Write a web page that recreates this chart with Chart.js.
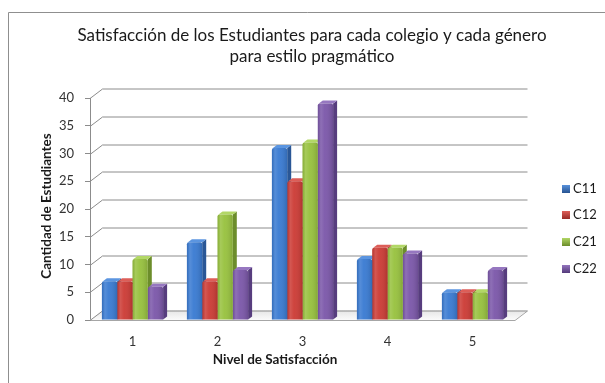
<!DOCTYPE html>
<html>
<head>
<meta charset="utf-8">
<script src="https://cdn.jsdelivr.net/npm/chart.js@4.4.1/dist/chart.umd.min.js"></script>
<style>
  html, body { margin: 0; padding: 0; background: #ffffff; }
  canvas { display: block; }
</style>
</head>
<body>
<canvas id="c" width="605" height="383"></canvas>
<script>
// ---------- data ----------
const categories = ['1', '2', '3', '4', '5'];
const seriesNames = ['C11', 'C12', 'C21', 'C22'];
const c11 = [7, 14, 31, 11, 5];
const c12 = [7, 7, 25, 13, 5];
const c21 = [11, 19, 32, 13, 5];
const c22 = [6, 9, 39, 12, 9];
const yMin = 0, yMax = 40, yStep = 5;
const titleLines = ['Satisfacción de los Estudiantes para cada colegio y cada género', 'para estilo pragmático'];
const xTitle = 'Nivel de Satisfacción';
const yTitle = 'Cantidad de Estudiantes';

// ---------- styles ----------
const FONT = "Lato, 'Liberation Sans', sans-serif";
const frontColors = ['#3a7bd2', '#cc3c36', '#98c23f', '#7c58aa'];
const sideColors  = ['#2a5796', '#952a26', '#6c8d2b', '#573d7e'];
const capColors   = ['#5b95e0', '#dc5e58', '#b2d766', '#9677c0'];
const DX = 4, DY = 3;          // bar depth offsets
const WDX = 12.5, WDY = 9.5;   // wall depth offsets

const seriesValues = [c11, c12, c21, c22];
const datasets = seriesValues.map((vals, i) => ({
  label: seriesNames[i],
  data: vals,
  backgroundColor: frontColors[i],
  borderWidth: 0,
  borderRadius: { topLeft: 2, topRight: 2, bottomLeft: 0, bottomRight: 0 },
  borderSkipped: 'bottom',
  categoryPercentage: 0.72,
  barPercentage: 1.0
}));

const deco = {
  id: 'deco',
  beforeDraw(chart) {
    const ctx = chart.ctx;
    ctx.save();
    ctx.fillStyle = '#ffffff';
    ctx.fillRect(0, 0, chart.width, chart.height);
    ctx.strokeStyle = '#8f8f8f';
    ctx.lineWidth = 1;
    ctx.beginPath();
    ctx.moveTo(8.5, chart.height + 2);
    ctx.lineTo(8.5, 12.5);
    ctx.lineTo(chart.width + 2, 12.5);
    ctx.stroke();
    ctx.restore();
  },
  beforeDatasetsDraw(chart) {
    const ctx = chart.ctx;
    const a = chart.chartArea;
    const ys = chart.scales.y;
    ctx.save();
    // floor
    const yb = ys.getPixelForValue(yMin);
    ctx.beginPath();
    ctx.moveTo(a.left, yb);
    ctx.lineTo(a.right, yb);
    ctx.lineTo(a.right + WDX, yb - WDY);
    ctx.lineTo(a.left + WDX, yb - WDY);
    ctx.closePath();
    const fg = ctx.createLinearGradient(0, yb - WDY, 0, yb);
    fg.addColorStop(0, '#e6e6e6');
    fg.addColorStop(1, '#fbfbfb');
    ctx.fillStyle = fg;
    ctx.fill();
    ctx.strokeStyle = '#a6a6a6';
    ctx.lineWidth = 1;
    ctx.beginPath();
    ctx.moveTo(a.left, yb + 0.5);
    ctx.lineTo(a.right, yb + 0.5);
    ctx.lineTo(a.right + WDX, yb - WDY + 0.5);
    ctx.stroke();
    // back wall gridlines + side wall diagonals
    ctx.strokeStyle = '#8c8c8c';
    ys.ticks.forEach(t => {
      const py = Math.round(ys.getPixelForValue(t.value)) + 0.5;
      ctx.beginPath();
      ctx.moveTo(a.left, py);
      ctx.lineTo(a.left + WDX, py - WDY);
      ctx.lineTo(a.right + WDX, py - WDY);
      ctx.stroke();
    });
    // bar sides and caps
    chart.data.datasets.forEach((ds, i) => {
      const meta = chart.getDatasetMeta(i);
      meta.data.forEach(bar => {
        const p = bar.getProps(['x', 'y', 'base', 'width'], true);
        const l = p.x - p.width / 2, r = p.x + p.width / 2;
        const top = p.y, base = p.base;
        // side
        ctx.beginPath();
        ctx.moveTo(r, top);
        ctx.lineTo(r + DX, top - DY);
        ctx.lineTo(r + DX, base - DY);
        ctx.lineTo(r, base);
        ctx.closePath();
        ctx.fillStyle = sideColors[i];
        ctx.fill();
        // cap
        ctx.beginPath();
        ctx.moveTo(l + 1, top);
        ctx.lineTo(l + DX + 1, top - DY);
        ctx.lineTo(r + DX, top - DY);
        ctx.lineTo(r, top);
        ctx.closePath();
        ctx.fillStyle = capColors[i];
        ctx.fill();
      });
    });
    ctx.restore();
  },
  afterDatasetsDraw(chart) {
    const ctx = chart.ctx;
    ctx.save();
    chart.data.datasets.forEach((ds, i) => {
      const meta = chart.getDatasetMeta(i);
      meta.data.forEach(bar => {
        const p = bar.getProps(['x', 'y', 'base', 'width'], true);
        const l = p.x - p.width / 2;
        const g = ctx.createLinearGradient(l, 0, l + p.width, 0);
        g.addColorStop(0, 'rgba(0,0,0,0.10)');
        g.addColorStop(0.2, 'rgba(255,255,255,0.14)');
        g.addColorStop(0.45, 'rgba(255,255,255,0.04)');
        g.addColorStop(1, 'rgba(0,0,0,0.14)');
        ctx.fillStyle = g;
        ctx.beginPath();
        ctx.roundRect(l, p.y, p.width, p.base - p.y, [2, 2, 0, 0]);
        ctx.fill();
      });
    });
    ctx.restore();
  },
  afterDraw(chart) {
    const ctx = chart.ctx;
    ctx.save();
    // title
    ctx.fillStyle = '#1a1a1a';
    ctx.font = '17px ' + FONT;
    ctx.textAlign = 'center';
    ctx.textBaseline = 'middle';
    ctx.fillText(titleLines[0], 312, 36);
    ctx.fillText(titleLines[1], 312, 57);
    // axis titles
    ctx.font = 'bold 13.5px ' + FONT;
    ctx.fillText(xTitle, 275, 360);
    ctx.save();
    ctx.translate(47, 206);
    ctx.rotate(-Math.PI / 2);
    ctx.fillText(yTitle, 0, 0);
    ctx.restore();
    // legend
    ctx.font = '13px ' + FONT;
    ctx.textAlign = 'left';
    chart.data.datasets.forEach((ds, i) => {
      const yc = 188.5 + i * 26.7;
      const g = ctx.createLinearGradient(0, yc - 4, 0, yc + 4);
      g.addColorStop(0, capColors[i]);
      g.addColorStop(1, sideColors[i]);
      ctx.fillStyle = g;
      ctx.fillRect(562, Math.round(yc - 4), 8, 8);
      ctx.fillStyle = '#1a1a1a';
      ctx.fillText(ds.label, 573, yc);
    });
    ctx.restore();
  }
};

new Chart(document.getElementById('c'), {
  type: 'bar',
  data: { labels: categories, datasets },
  plugins: [deco],
  options: {
    responsive: false,
    animation: false,
    devicePixelRatio: 1,
    layout: { padding: { left: 40, right: 90, top: 98, bottom: 33 } },
    plugins: {
      legend: { display: false },
      title: { display: false },
      tooltip: { enabled: false }
    },
    scales: {
      x: {
        grid: { display: false },
        border: { display: false },
        ticks: { color: '#333333', font: { family: FONT, size: 13 }, padding: 6 },
        afterFit(s) { s.height = 30; }
      },
      y: {
        min: yMin, max: yMax,
        ticks: { stepSize: yStep, color: '#333333', font: { family: FONT, size: 13 }, padding: 11 },
        grid: { drawOnChartArea: false, drawTicks: true, tickLength: 5, color: '#8c8c8c' },
        border: { display: true, color: '#8c8c8c' },
        afterFit(s) { s.width = 50; }
      }
    }
  }
});
</script>
</body>
</html>
